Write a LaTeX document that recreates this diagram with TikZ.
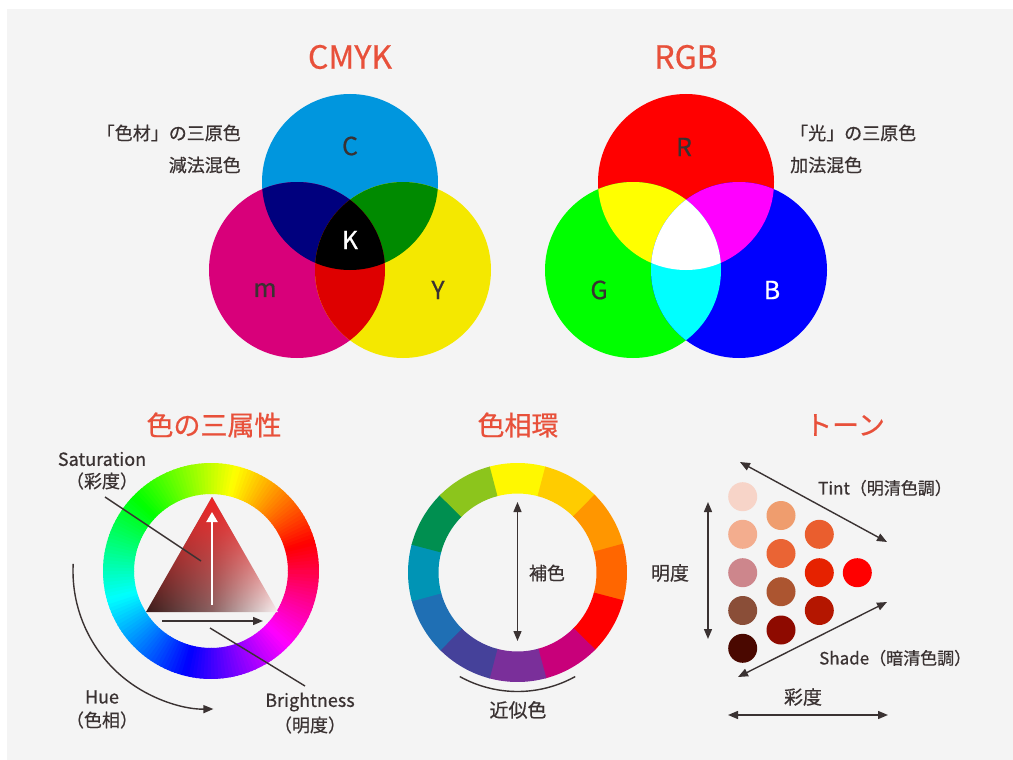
\documentclass[tikz,border=0pt]{standalone}
\usepackage{fontspec}
\setmainfont{Noto Sans CJK JP}[FakeBold=0.6]
\usetikzlibrary{arrows.meta,fadings,calc}
\definecolor{bg}{HTML}{F4F4F4}
\definecolor{ttl}{HTML}{E8503A}
\definecolor{ink}{HTML}{3A3232}
\definecolor{cC}{HTML}{0096DE}
\definecolor{cM}{HTML}{D8007A}
\definecolor{cY}{HTML}{F4E800}
\definecolor{cCM}{HTML}{00007E}
\definecolor{cCY}{HTML}{008A00}
\definecolor{cMY}{HTML}{DE0000}
\definecolor{rR}{HTML}{FF0000}
\definecolor{rG}{HTML}{00FF00}
\definecolor{rB}{HTML}{0000FF}
\definecolor{rRG}{HTML}{FFFF00}
\definecolor{rRB}{HTML}{FF00FF}
\definecolor{rGB}{HTML}{00FFFF}
\definecolor{triL}{HTML}{3A1C1A}
\definecolor{triM}{HTML}{8A6464}
\definecolor{triR}{HTML}{FAF4F4}
\definecolor{triT}{HTML}{EE2424}
\definecolor{t11}{HTML}{F7D4C8}
\definecolor{t12}{HTML}{F3AD8E}
\definecolor{t13}{HTML}{CD868C}
\definecolor{t14}{HTML}{8A4E38}
\definecolor{t15}{HTML}{4A0800}
\definecolor{t21}{HTML}{EF9D6E}
\definecolor{t22}{HTML}{EA6434}
\definecolor{t23}{HTML}{AC5530}
\definecolor{t24}{HTML}{8E0A00}
\definecolor{t31}{HTML}{EA5E2E}
\definecolor{t32}{HTML}{E62200}
\definecolor{t33}{HTML}{B41600}
\definecolor{t41}{HTML}{FF0000}
\tikzfading[name=fadedown, top color=transparent!0, bottom color=transparent!100]
\tikzset{
  title/.style={text=ttl, font=\fontsize{27}{30}\selectfont},
  lbl/.style={text=ink, font=\fontsize{18}{21}\selectfont, inner sep=0pt},
  big/.style={font=\fontsize{25}{28}\selectfont, inner sep=0pt},
  conn/.style={draw=ink, line width=1.4pt},
  arr/.style={conn, -{Triangle[length=10pt,width=8pt]}},
  darr/.style={conn, {Triangle[length=10pt,width=8pt]}-{Triangle[length=10pt,width=8pt]}},
  dot/.style={circle, minimum size=29pt, inner sep=0pt},
}
\begin{document}
\begin{tikzpicture}[x=1pt,y=-1pt]
\useasboundingbox (0,0) rectangle (1013,760);
\fill[white] (0,0) rectangle (1013,760);
\fill[bg] (7,9) rectangle (1013,760);

% ---------- CMYK ----------
\node[title, font=\fontsize{32}{34}\selectfont] (tcmyk) at (350,57) {CMYK};
\coordinate (pC) at (350,182);
\coordinate (pM) at (297,270);
\coordinate (pY) at (403,270);
\fill[cC] (pC) circle[radius=88pt];
\fill[cM] (pM) circle[radius=88pt];
\fill[cY] (pY) circle[radius=88pt];
\begin{scope}
  \clip (pC) circle[radius=88pt];
  \fill[cCM] (pM) circle[radius=88pt];
  \fill[cCY] (pY) circle[radius=88pt];
\end{scope}
\begin{scope}
  \clip (pM) circle[radius=88pt];
  \fill[cMY] (pY) circle[radius=88pt];
\end{scope}
\begin{scope}
  \clip (pC) circle[radius=88pt];
  \clip (pM) circle[radius=88pt];
  \fill[black] (pY) circle[radius=88pt];
\end{scope}
\node[big, text=ink] (lC) at (350,146) {C};
\node[big, text=white] (lK) at (350,240) {K};
\node[big, text=ink] (lM) at (265,290) {m};
\node[big, text=ink] (lY) at (438,290) {Y};
\node[lbl, anchor=east] (cm1) at (241,133) {「色材」の三原色};
\node[lbl, anchor=east] (cm2) at (241,165) {減法混色};

% ---------- RGB ----------
\node[title, font=\fontsize{32}{34}\selectfont] (trgb) at (686,57) {RGB};
\coordinate (pR) at (686,182);
\coordinate (pG) at (633,270);
\coordinate (pB) at (739,270);
\fill[rR] (pR) circle[radius=88pt];
\fill[rG] (pG) circle[radius=88pt];
\fill[rB] (pB) circle[radius=88pt];
\begin{scope}
  \clip (pR) circle[radius=88pt];
  \fill[rRG] (pG) circle[radius=88pt];
  \fill[rRB] (pB) circle[radius=88pt];
\end{scope}
\begin{scope}
  \clip (pG) circle[radius=88pt];
  \fill[rGB] (pB) circle[radius=88pt];
\end{scope}
\begin{scope}
  \clip (pR) circle[radius=88pt];
  \clip (pG) circle[radius=88pt];
  \fill[white] (pB) circle[radius=88pt];
\end{scope}
\node[big, text=ink] (lR) at (684,147) {R};
\node[big, text=ink] (lG) at (599,290) {G};
\node[big, text=white] (lB) at (772,290) {B};
\node[lbl, anchor=west] (rg1) at (790,133) {「光」の三原色};
\node[lbl, anchor=west] (rg2) at (790,165) {加法混色};

% ---------- 色の三属性 ----------
\node[title] (t3) at (214,425) {色の三属性};
\coordinate (hc) at (211,571);
\foreach \a in {0,2,...,358}{
  \pgfmathtruncatemacro\h{mod(\a+345,360)}
  \definecolor{huec}{Hsb}{\h,1,1}
  \fill[huec] ($(hc)+(\a:77pt)$) -- ($(hc)+(\a:108pt)$)
    arc[start angle=\a, end angle=\a+2.6, radius=108pt]
    -- ($(hc)+({\a+2.6}:77pt)$)
    arc[start angle=\a+2.6, end angle=\a, radius=77pt] -- cycle;
}
\coordinate (tA) at (212,497);
\coordinate (tL) at (146,612);
\coordinate (tR) at (278,612);
\begin{scope}
  \clip (tA) -- (tL) -- (tR) -- cycle;
  \shade[left color=triL, right color=triR, middle color=triM]
    (146,497) rectangle (278,612);
  \fill[triT, path fading=fadedown] (146,497) rectangle (278,612);
\end{scope}
\coordinate (wa1) at (212,605);
\coordinate (wa2) at (212,512);
\draw[white, line width=2.2pt, -{Triangle[length=10pt,width=11pt]}] (wa1) -- (wa2);
\coordinate (ba1) at (162,621);
\coordinate (ba2) at (263,621);
\draw[arr] (ba1) -- (ba2);
\node[lbl] (sat1) at (102,459) {Saturation};
\node[lbl] (sat2) at (102,481) {（彩度）};
\coordinate (satA) at (105,497);
\coordinate (satB) at (201,561);
\draw[conn] (satA) -- (satB);
\node[lbl] (bri1) at (310,702) {Brightness};
\node[lbl] (bri2) at (310,725) {（明度）};
\coordinate (briA) at (210,628);
\coordinate (briB) at (305,686);
\draw[conn] (briA) -- (briB);
\node[lbl] (hue1) at (102,697) {Hue};
\node[lbl] (hue2) at (102,720) {（色相）};
\coordinate (hueA) at ($(hc)+(177:138pt)$);
\draw[arr] (hueA) arc[start angle=177, end angle=271, radius=138pt];

% ---------- 色相環 ----------
\node[title] (tw) at (518,425) {色相環};
\coordinate (wc) at (517.5,572.5);
\foreach \c [count=\i from 0] in {FFF800,FFCC00,FF9600,FF6600,FF0000,C8007A,7A2F9A,45419A,1F6FB4,0094B5,008F50,8CC51C}{
  \definecolor{segc}{HTML}{\c}
  \pgfmathsetmacro\s{90-30*\i-15.3}
  \pgfmathsetmacro\e{90-30*\i+15.3}
  \fill[segc] ($(wc)+(\s:79pt)$) -- ($(wc)+(\s:109.5pt)$)
    arc[start angle=\s, end angle=\e, radius=109.5pt]
    -- ($(wc)+(\e:79pt)$)
    arc[start angle=\e, end angle=\s, radius=79pt] -- cycle;
}
\coordinate (ha) at (517.5,502);
\coordinate (hb) at (517.5,641);
\draw[darr] (ha) -- (hb);
\node[lbl] (hosh) at (547,573) {補色};
\coordinate (kA) at ($(wc)+(241:119pt)$);
\draw[conn] (kA) arc[start angle=241, end angle=299, radius=119pt];
\node[lbl, font=\fontsize{19}{21}\selectfont] (kin) at (518,710) {近似色};

% ---------- トーン ----------
\node[title] (tt) at (845,425) {トーン};
\node[dot, fill=t11] (d11) at (742.7,496.7) {};
\node[dot, fill=t12] (d12) at (742.7,534.3) {};
\node[dot, fill=t13] (d13) at (742.7,572.7) {};
\node[dot, fill=t14] (d14) at (742.7,610.5) {};
\node[dot, fill=t15] (d15) at (742.7,648.3) {};
\node[dot, fill=t21] (d21) at (781,515.5) {};
\node[dot, fill=t22] (d22) at (781,553.5) {};
\node[dot, fill=t23] (d23) at (781,591.7) {};
\node[dot, fill=t24] (d24) at (781,630) {};
\node[dot, fill=t31] (d31) at (819.3,534.3) {};
\node[dot, fill=t32] (d32) at (819.3,572.7) {};
\node[dot, fill=t33] (d33) at (819.3,610.5) {};
\node[dot, fill=t41] (d41) at (857.3,572.7) {};
\coordinate (tiA) at (740,462);
\coordinate (tiB) at (887,542);
\draw[darr] (tiA) -- (tiB);
\coordinate (shA) at (887,602);
\coordinate (shB) at (738,677);
\draw[darr] (shA) -- (shB);
\coordinate (mvA) at (708,502);
\coordinate (mvB) at (708,639);
\draw[darr] (mvA) -- (mvB);
\coordinate (shzA) at (728,715);
\coordinate (shzB) at (888,715);
\draw[darr] (shzA) -- (shzB);
\node[lbl, font=\fontsize{19}{21}\selectfont] (mei) at (670,573) {明度};
\node[lbl, font=\fontsize{19}{21}\selectfont] (sai) at (803,697) {彩度};
\node[lbl, anchor=west, font=\fontsize{17}{20}\selectfont] (tint) at (818,488) {Tint（明清色調）};
\node[lbl, anchor=west, font=\fontsize{17}{20}\selectfont] (shade) at (819,658) {Shade（暗清色調）};
\end{tikzpicture}
\end{document}
